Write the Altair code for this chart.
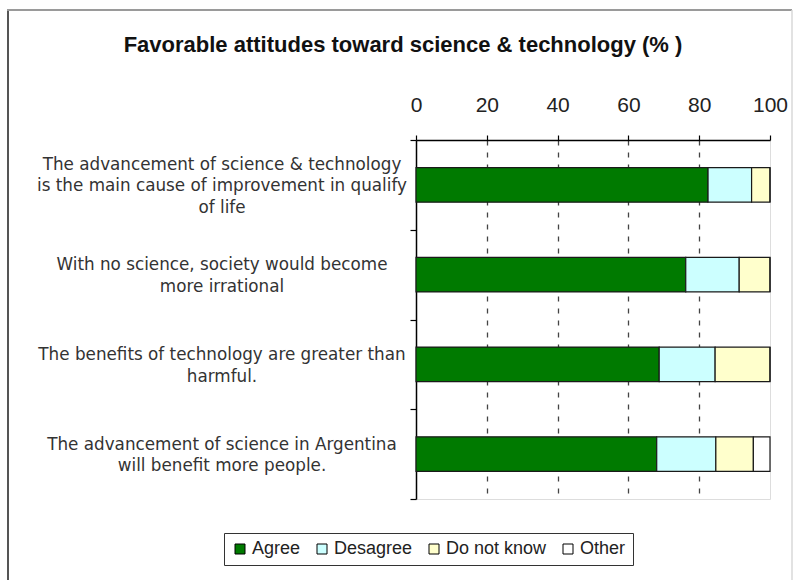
import altair as alt
import pandas as pd

# Survey statements, one list of text lines per statement
statements = [
    ["The advancement of science & technology", "is the main cause of improvement in qualify", "of life"],
    ["With no science, society would become", "more irrational"],
    ["The benefits of technology are greater than", "harmful."],
    ["The advancement of science in Argentina", "will benefit more people."],
]
responses = ["Agree", "Desagree", "Do not know", "Other"]

# Share of respondents (%) per statement
agree = [82.5, 76.2, 68.7, 68.0]
disagree = [12.3, 15.1, 15.8, 16.7]
dont_know = [5.2, 8.7, 15.5, 10.6]
other = [0.0, 0.0, 0.0, 4.7]

colors = ["#007a00", "#ccffff", "#ffffcc", "#ffffff"]
x_ticks = [0, 20, 40, 60, 80, 100]

keys = [" ".join(lines) for lines in statements]

rows = []
series = [agree, disagree, dont_know, other]
for i, key in enumerate(keys):
    for j, resp in enumerate(responses):
        rows.append({"statement": key, "response": resp, "order": j, "pct": series[j][i]})
df = pd.DataFrame(rows)

# One row per label line; "pos" centres the lines of a statement on its band
label_rows = []
for key, lines in zip(keys, statements):
    n = len(lines)
    for k, line in enumerate(lines):
        label_rows.append({"statement": key, "line": line, "pos": k - (n - 1) / 2})
labels_df = pd.DataFrame(label_rows)

LINE_HEIGHT = 21.5

y_enc = alt.Y(
    "statement:N",
    sort=keys,
    scale=alt.Scale(paddingInner=0, paddingOuter=0),
    axis=alt.Axis(
        title=None,
        labels=False,
        domainColor="#000000",
        domainWidth=1.5,
        tickColor="#000000",
        tickSize=6,
        tickWidth=1.2,
        tickBand="extent",
        grid=False,
    ),
)

bars = alt.Chart(df).mark_bar(
    stroke="#1a1a1a", strokeWidth=1.2, height=alt.RelativeBandSize(0.385)
).encode(
    x=alt.X(
        "pct:Q",
        stack="zero",
        scale=alt.Scale(domain=[0, 100], nice=False, zero=True),
        axis=alt.Axis(
            orient="top",
            values=x_ticks,
            title=None,
            domainColor="#000000",
            domainWidth=1.5,
            tickColor="#000000",
            tickSize=5,
            tickWidth=1.2,
            labelFont="Liberation Sans",
            labelFontSize=21,
            labelColor="#222222",
            labelPadding=20,
            labelFlush=False,
            grid=True,
            gridColor="#444444",
            gridWidth=1.3,
            gridDash=[5, 7],
            gridOpacity={"condition": {"test": "datum.value == 0 || datum.value == 100", "value": 0}, "value": 1},
        ),
    ),
    y=y_enc,
    color=alt.Color(
        "response:N",
        scale=alt.Scale(domain=responses, range=colors),
        legend=alt.Legend(
            title=None,
            orient="none",
            legendX=-192,
            legendY=393,
            direction="horizontal",
            columns=4,
            symbolType="square",
            symbolSize=100,
            symbolStrokeColor="#000000",
            symbolStrokeWidth=1,
            labelFont="Liberation Sans",
            labelFontSize=18,
            labelColor="#222222",
            labelOffset=3,
            columnPadding=12,
            strokeColor="#333333",
            fillColor="#ffffff",
            padding=7,
        ),
    ),
    order=alt.Order("order:Q"),
)

# Category labels, centred line by line left of the axis
label_layers = []
for p in sorted(labels_df["pos"].unique()):
    label_layers.append(
        alt.Chart(labels_df)
        .transform_filter(f"datum.pos == {p}")
        .mark_text(
            align="center",
            baseline="middle",
            font="DejaVu Sans",
            fontSize=16.8,
            color="#333333",
            dy=p * LINE_HEIGHT + 1.5,
        )
        .encode(x=alt.value(-194), y=y_enc, text="line:N")
    )

# Outer chart frame
frame_src = pd.DataFrame({"k": [0]})
left_edge = alt.Chart(frame_src).mark_rule(color="#555555", strokeWidth=2).encode(
    x=alt.value(-408), y=alt.value(-131), y2=alt.value(460)
)
top_edge = alt.Chart(frame_src).mark_rule(color="#9a9a9a", strokeWidth=2).encode(
    x=alt.value(-409), x2=alt.value(376), y=alt.value(-130)
)
right_edge = alt.Chart(frame_src).mark_rule(color="#d8d8d8", strokeWidth=1.5).encode(
    x=alt.value(376), y=alt.value(-130), y2=alt.value(460)
)

chart = (
    alt.layer(left_edge, top_edge, right_edge, bars, *label_layers)
    .properties(
        width=354,
        height=359,
        autosize=alt.AutoSizeParams(type="none"),
        padding={"left": 416, "top": 140, "right": 24, "bottom": 81},
        title=alt.TitleParams(
            "Favorable attitudes toward science & technology (% )",
            font="Liberation Sans",
            fontSize=22,
            fontWeight="bold",
            color="#111111",
            anchor="middle",
            dx=-190,
            dy=53,
        ),
    )
    .configure_view(stroke="#a6a6a6", strokeWidth=1.5)
    .configure(background="#ffffff")
)

chart.save("out.html", embed_options={"renderer": "svg", "actions": False})
